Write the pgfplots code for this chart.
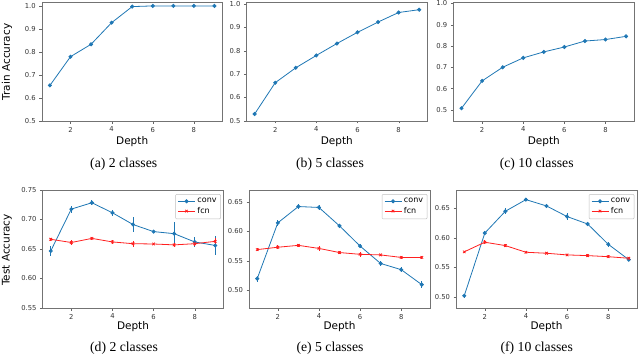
\documentclass[border=0pt]{standalone}
\usepackage{pgfplots}
\pgfplotsset{compat=1.18}
\usepackage{fontspec}
\setmainfont{Liberation Serif}
\newfontfamily\dv{DejaVu Sans}
\definecolor{mblue}{HTML}{1F77B4}
\definecolor{mred}{HTML}{FF2020}
\pgfplotsset{
  base/.style={
    scale only axis, width=181pt,
    anchor=north west,
    xmin=0.6, xmax=9.4,
    xtick={2,4,6,8},
    xtick pos=bottom, ytick pos=left,
    axis line style={black!55},
    tick align=outside,
    major tick length=2.5pt,
    tick style={black!60},
    tick label style={font=\dv\fontsize{6.8}{8}\selectfont, text=black!80},
    /pgf/number format/assume math mode=true,
    xlabel={Depth},
    xlabel style={font=\dv\fontsize{10.5}{12}\selectfont, at={(axis description cs:0.5,0)}, anchor=center},
    legend style={font=\dv\fontsize{8}{9}\selectfont, draw=black!25, rounded corners=1pt,
      at={(0.985,0.965)}, anchor=north east, row sep=-1pt, inner sep=2pt},
    legend cell align=left,
  },
  top/.style={base, height=119pt, xlabel style={yshift=-20.5pt},
    ytick={0.5,0.6,0.7,0.8,0.9,1.0}, yticklabels={0.5,0.6,0.7,0.8,0.9,1.0}},
  bot/.style={base, height=118pt, xlabel style={yshift=-18.7pt}},
  trainline/.style={mblue, line width=0.8pt, mark=*, mark size=1.6pt},
  convline/.style={mblue, line width=0.8pt, mark=*, mark size=1.6pt,
    error bars/.cd, y dir=both, y explicit, error mark=none,
    error bar style={mblue, line width=0.8pt}},
  fcnline/.style={mred, line width=0.8pt, mark=x, mark size=1.8pt,
    error bars/.cd, y dir=both, y explicit, error mark=none,
    error bar style={mred, line width=0.8pt}},
}
\begin{document}
\begin{tikzpicture}
\path[use as bounding box] (0,0) rectangle (640pt,-357pt);
% (a)
\begin{axis}[top, at={(41.7pt,-2pt)}, ymin=0.499, ymax=1.017]
\addplot[trainline] coordinates {(1,0.654) (2,0.779) (3,0.833) (4,0.927) (5,0.997) (6,1.0) (7,1.0) (8,1.0) (9,1.0)};
\end{axis}
% (b)
\begin{axis}[top, at={(246.4pt,-2pt)}, ymin=0.499, ymax=1.009]
\addplot[trainline] coordinates {(1,0.529) (2,0.663) (3,0.727) (4,0.780) (5,0.831) (6,0.879) (7,0.923) (8,0.964) (9,0.976)};
\end{axis}
% (c)
\begin{axis}[top, at={(453.3pt,-2pt)}, ymin=0.448, ymax=1.006]
\addplot[trainline] coordinates {(1,0.508) (2,0.636) (3,0.700) (4,0.744) (5,0.772) (6,0.795) (7,0.823) (8,0.830) (9,0.845)};
\end{axis}
% (d)
\begin{axis}[bot, at={(42.5pt,-190pt)}, ymin=0.55, ymax=0.75, ytick={0.55,0.60,0.65,0.70,0.75}, yticklabels={0.55,0.60,0.65,0.70,0.75}]
\addplot[convline] table[y error=e] {
x y e
1 0.6466 0.008
2 0.7176 0.006
3 0.7284 0.004
4 0.7114 0.005
5 0.6915 0.012
6 0.6795 0.003
7 0.6760 0.019
8 0.6620 0.008
9 0.6560 0.016
};
\addlegendentry{conv}
\addplot[fcnline] table[y error=e] {
x y e
1 0.6665 0.003
2 0.6610 0.004
3 0.6680 0.002
4 0.6620 0.004
5 0.6590 0.005
6 0.6585 0.002
7 0.6570 0.003
8 0.6590 0.004
9 0.6630 0.006
};
\addlegendentry{fcn}
\end{axis}
% (e)
\begin{axis}[bot, at={(249pt,-190pt)}, ymin=0.47, ymax=0.67, ytick={0.50,0.55,0.60,0.65}, yticklabels={0.50,0.55,0.60,0.65}]
\addplot[convline] table[y error=e] {
x y e
1 0.5198 0.005
2 0.6143 0.005
3 0.6420 0.005
4 0.6404 0.004
5 0.6092 0.002
6 0.5750 0.003
7 0.5455 0.004
8 0.5350 0.004
9 0.5096 0.006
};
\addlegendentry{conv}
\addplot[fcnline] table[y error=e] {
x y e
1 0.5690 0.002
2 0.5730 0.003
3 0.5762 0.002
4 0.5710 0.004
5 0.5640 0.002
6 0.5610 0.004
7 0.5600 0.002
8 0.5557 0.002
9 0.5557 0.002
};
\addlegendentry{fcn}
\end{axis}
% (f)
\begin{axis}[bot, at={(456pt,-190pt)}, ymin=0.481, ymax=0.681, ytick={0.50,0.55,0.60,0.65}, yticklabels={0.50,0.55,0.60,0.65}]
\addplot[convline] table[y error=e] {
x y e
1 0.5017 0.003
2 0.6080 0.004
3 0.6450 0.005
4 0.6647 0.002
5 0.6540 0.003
6 0.6360 0.006
7 0.6234 0.002
8 0.5890 0.004
9 0.5630 0.003
};
\addlegendentry{conv}
\addplot[fcnline] table[y error=e] {
x y e
1 0.5762 0.002
2 0.5925 0.003
3 0.5868 0.002
4 0.5755 0.002
5 0.5738 0.002
6 0.5710 0.002
7 0.5698 0.002
8 0.5680 0.002
9 0.5653 0.002
};
\addlegendentry{fcn}
\end{axis}
% y labels
\node[rotate=90, font=\dv\fontsize{10.5}{12}\selectfont] at (7pt,-62pt) {Train Accuracy};
\node[rotate=90, font=\dv\fontsize{10.5}{12}\selectfont] at (7pt,-250pt) {Test Accuracy};
% captions
\node[font=\fontsize{13.7}{15}\selectfont] at (123.7pt,-164pt) {(a) 2 classes};
\node[font=\fontsize{13.7}{15}\selectfont] at (330pt,-164pt) {(b) 5 classes};
\node[font=\fontsize{13.7}{15}\selectfont] at (536.7pt,-164pt) {(c) 10 classes};
\node[font=\fontsize{13.7}{15}\selectfont] at (124pt,-348.3pt) {(d) 2 classes};
\node[font=\fontsize{13.7}{15}\selectfont] at (330pt,-348.3pt) {(e) 5 classes};
\node[font=\fontsize{13.7}{15}\selectfont] at (536.7pt,-348.3pt) {(f) 10 classes};
\end{tikzpicture}
\end{document}
